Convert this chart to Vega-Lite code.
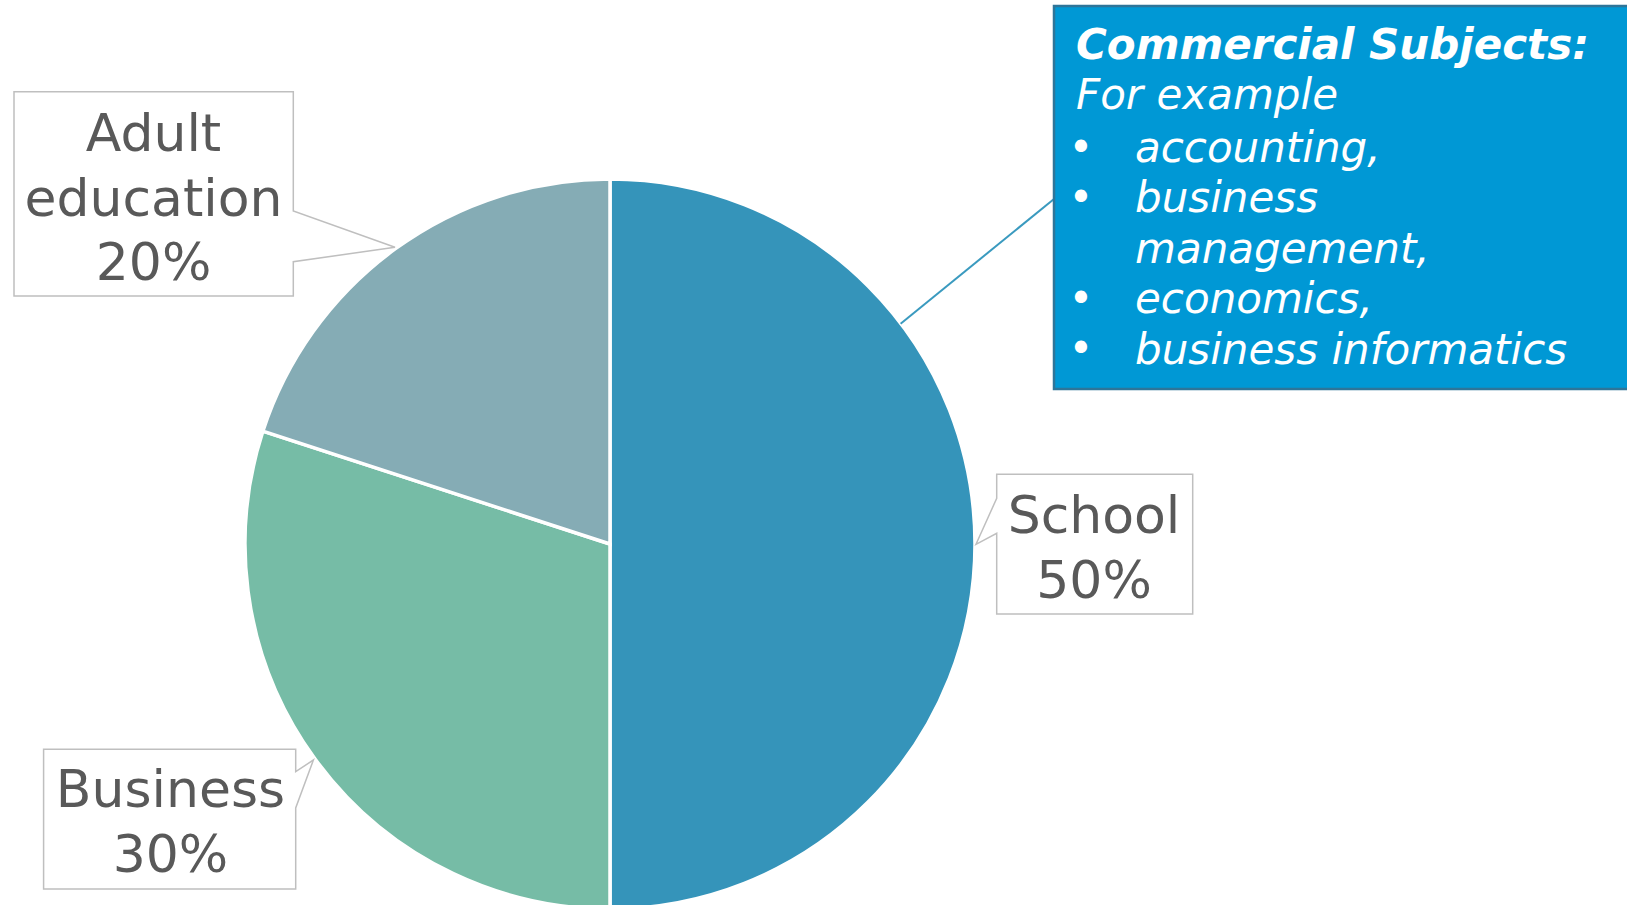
{
  "$schema": "https://vega.github.io/schema/vega-lite/v6.json",
  "width": 1220,
  "height": 1088,
  "autosize": "none",
  "padding": {"left": 0, "top": 0, "right": 407, "bottom": 0},
  "background": "white",
  "config": {"view": {"stroke": null}, "font": "DejaVu Sans"},
  "datasets": {
    "shares": [
      {"category": "School", "value": 50, "label": ["School", "50%"]},
      {"category": "Business", "value": 30, "label": ["Business", "30%"]},
      {"category": "Adult education", "value": 20, "label": ["Adult", "education", "20%"]}
    ],
    "note": [
      {"title": "Commercial Subjects:", "intro": "For example", "bulletsTop": ["•", "•"], "bulletsBottom": ["•", "•"], "items": ["accounting,", "business", "management,", "economics,", "business informatics"]}
    ]
  },
  "layer": [
    {
      "data": {"name": "shares"},
      "mark": {"type": "arc", "outerRadius": 365, "stroke": "white", "strokeWidth": 3.5},
      "encoding": {
        "theta": {"field": "value", "type": "quantitative", "stack": true},
        "order": {"field": "value", "sort": "descending"},
        "color": {"field": "category", "type": "nominal", "legend": null,
          "scale": {"domain": ["School", "Business", "Adult education"], "range": ["#3594BA", "#76BCA6", "#85ACB5"]}}
      }
    },
    {
      "data": {"name": "shares"},
      "mark": {"type": "point", "size": 4, "filled": true, "fill": "white", "stroke": "#BFBFBF", "strokeWidth": 1.5, "opacity": 1},
      "encoding": {
        "shape": {"field": "category", "type": "nominal", "legend": null,
          "scale": {"domain": ["School", "Business", "Adult education"],
            "range": [
              "M386.7,-69.7H582.7V70H386.7V-10.7L366,0.3L386.7,-45.7Z",
              "M-566.4,205.3H-314.3V227.7L-296.6,216L-314.3,264V345H-566.4Z",
              "M-596,-452.3H-316.7V-333L-215,-296.7L-316.7,-282.3V-248H-596Z"
            ]}}
      }
    },
    {
      "data": {"name": "shares"},
      "mark": {"type": "text", "radius": 484, "dx": 0, "dy": -11, "align": "center", "baseline": "alphabetic", "fontSize": 52, "lineHeight": 64.5, "color": "#595959"},
      "encoding": {
        "theta": {"field": "value", "type": "quantitative", "stack": true},
        "order": {"field": "value", "sort": "descending"},
        "detail": {"field": "category"},
        "text": {"condition": {"test": "datum.category === 'School'", "field": "label"}, "value": ""}
      }
    },
    {
      "data": {"name": "shares"},
      "mark": {"type": "text", "radius": 484, "dx": -48, "dy": -21, "align": "center", "baseline": "alphabetic", "fontSize": 52, "lineHeight": 64.5, "color": "#595959"},
      "encoding": {
        "theta": {"field": "value", "type": "quantitative", "stack": true},
        "order": {"field": "value", "sort": "descending"},
        "detail": {"field": "category"},
        "text": {"condition": {"test": "datum.category === 'Business'", "field": "label"}, "value": ""}
      }
    },
    {
      "data": {"name": "shares"},
      "mark": {"type": "text", "radius": 484, "dx": -172, "dy": -1, "align": "center", "baseline": "alphabetic", "fontSize": 52, "lineHeight": 64.5, "color": "#595959"},
      "encoding": {
        "theta": {"field": "value", "type": "quantitative", "stack": true},
        "order": {"field": "value", "sort": "descending"},
        "detail": {"field": "category"},
        "text": {"condition": {"test": "datum.category === 'Adult education'", "field": "label"}, "value": ""}
      }
    },
    {
      "data": {"name": "note"},
      "mark": {"type": "point", "size": 4, "filled": false, "stroke": "#3A9ABF", "strokeWidth": 2, "opacity": 1, "shape": "M290.6,-220.3L444,-345"},
      "encoding": {}
    },
    {
      "data": {"name": "note"},
      "mark": {"type": "point", "size": 4, "filled": true, "fill": "#0098D5", "stroke": "#2E7599", "strokeWidth": 2.5, "opacity": 1, "shape": "M444,-538H1040V-155H444Z"},
      "encoding": {}
    },
    {
      "data": {"name": "note"},
      "mark": {"type": "text", "dx": 466, "dy": -485, "align": "left", "baseline": "alphabetic", "fontSize": 42, "fontWeight": "bold", "fontStyle": "italic", "color": "white"},
      "encoding": {"text": {"field": "title"}}
    },
    {
      "data": {"name": "note"},
      "mark": {"type": "text", "dx": 466, "dy": -435, "align": "left", "baseline": "alphabetic", "fontSize": 42, "fontStyle": "italic", "color": "white"},
      "encoding": {"text": {"field": "intro"}}
    },
    {
      "data": {"name": "note"},
      "mark": {"type": "text", "dx": 471, "dy": -382, "align": "center", "baseline": "alphabetic", "fontSize": 42, "lineHeight": 50.4, "color": "white"},
      "encoding": {"text": {"field": "bulletsTop"}}
    },
    {
      "data": {"name": "note"},
      "mark": {"type": "text", "dx": 471, "dy": -231, "align": "center", "baseline": "alphabetic", "fontSize": 42, "lineHeight": 50.4, "color": "white"},
      "encoding": {"text": {"field": "bulletsBottom"}}
    },
    {
      "data": {"name": "note"},
      "mark": {"type": "text", "dx": 525, "dy": -382, "align": "left", "baseline": "alphabetic", "fontSize": 42, "lineHeight": 50.4, "fontStyle": "italic", "color": "white"},
      "encoding": {"text": {"field": "items"}}
    }
  ]
}
